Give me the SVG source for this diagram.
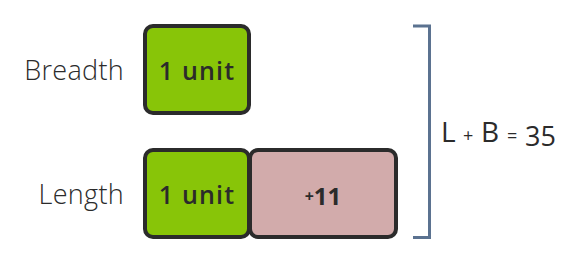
<svg xmlns="http://www.w3.org/2000/svg" width="582" height="264" viewBox="0 0 582 264">
<style>
.box{stroke:#2b2b2b;stroke-width:4}
.g{fill:#88c508}
.p{fill:#d2abab}
.lbl{font-family:"Open Sans",Lato,sans-serif;font-weight:300;font-size:27px;letter-spacing:0.3px;fill:#2b2b2b;text-anchor:end}
.in{font-family:"Open Sans",Lato,sans-serif;font-weight:600;font-size:25px;letter-spacing:1.2px;fill:#2b2b2b;text-anchor:middle}
.eq{font-family:"Open Sans",Lato,sans-serif;font-weight:400;font-size:28px;fill:#2b2b2b}
.sm{font-size:18px}
</style>
<rect width="582" height="264" fill="#ffffff"/>
<g id="breadth">
<text class="lbl" x="124" y="80">Breadth</text>
<rect class="box g" x="145" y="26" width="104" height="87" rx="8"/>
<text class="in" x="197" y="80">1 unit</text>
</g>
<g id="length">
<text class="lbl" x="124" y="204">Length</text>
<rect class="box g" x="145" y="150" width="104" height="87" rx="8"/>
<text class="in" x="197" y="204">1 unit</text>
</g>
<g id="extra">
<rect class="box p" x="250" y="150" width="146" height="87" rx="8"/>
<text class="in" x="323" y="205" style="font-size:24px;font-weight:700;letter-spacing:0"><tspan style="font-size:16px" dy="-3">+</tspan><tspan dy="3">11</tspan></text>
</g>
<g id="connectors">
<path d="M413 26 H429.5 V237.5 H413" fill="none" stroke="#5b7290" stroke-width="3"/>
</g>
<g id="sum">
<text class="eq" y="142"><tspan x="441">L</tspan><tspan class="sm" x="463">+</tspan><tspan x="481">B</tspan><tspan class="sm" x="507">=</tspan><tspan x="525" y="146" style="font-size:27px">35</tspan></text>
</g>
</svg>
